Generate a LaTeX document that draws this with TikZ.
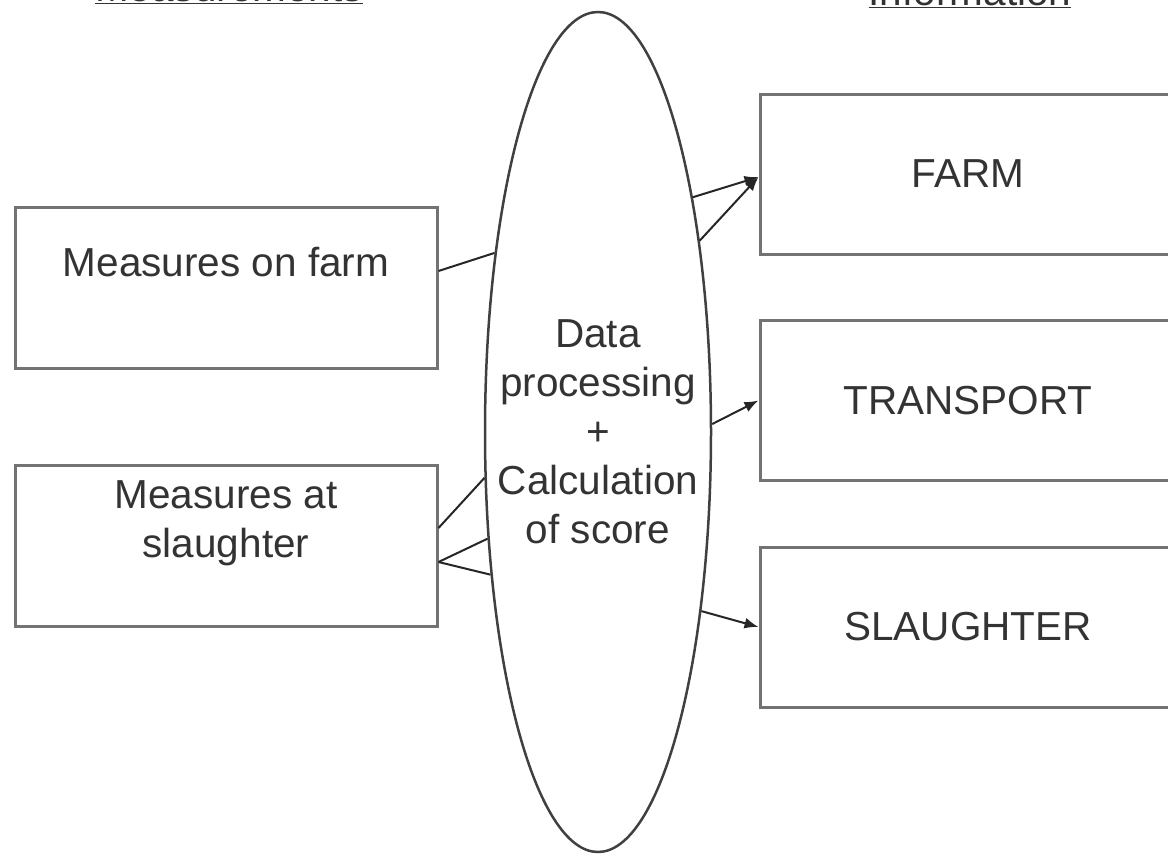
\documentclass[tikz,border=0pt]{standalone}
\usepackage{fontspec}
\setmainfont{Liberation Sans}
\usetikzlibrary{shapes.geometric,arrows.meta}
\newcommand{\bigtxt}{\fontsize{40.5}{49}\selectfont}

\begin{document}
\begin{tikzpicture}[x=1pt,y=-1pt,
	box/.style={draw=black!55,line width=3pt,minimum width=422pt,minimum height=161pt,inner sep=0pt,font=\bigtxt,text=black!80},
	txt/.style={font=\bigtxt,text=black!80,align=center},
	conn/.style={draw=black!85,line width=2pt},
	arr/.style={conn,-{Latex[length=14pt,width=11pt]}}]
	\useasboundingbox (0,0) rectangle (1168,854);
	% headings, cut by the page edge
	\node[txt,anchor=base] (meas) at (229,1.5) {\underline{Measurements}};
	\node[txt,anchor=base] (info) at (970,5) {\underline{Information}};
	% boxes
	\node[box,label={[txt,yshift=25]center:Measures on farm}] (mfarm) at (226,287.5) {};
	\node[box,label={[txt,yshift=23]center:Measures at\\slaughter}] (mslaught) at (226,546) {};
	\node[box,minimum width=416pt,minimum height=160pt] (farm) at (968,174) {FARM};
	\node[box,minimum width=416pt,minimum height=160pt] (transport) at (968,400.5) {TRANSPORT};
	\node[box,minimum width=416pt,minimum height=160pt] (slaughter) at (968,627) {SLAUGHTER};
	\node[ellipse,draw=black!75,line width=2.5pt,minimum width=226pt,minimum height=840pt,inner sep=0pt,
		label={[txt]center:Data\\processing\\+\\Calculation\\of score}] (proc) at (598,432) {};
	% connectors
	\draw[conn] ([yshift=16.5]mfarm.east) -- (proc.120);
	\draw[conn] ([yshift=18]mslaught.east) -- (proc.202);
	\foreach \a in {224,233}
		\draw[conn] ([yshift=-16]mslaught.east) -- (proc.\a);
	\foreach \a in {68,62}
		\draw[arr] (proc.\a) -- ([yshift=-3]farm.west);
	\draw[arr] (proc.4) -- (transport.west);
	\draw[arr] (proc.300) -- (slaughter.west);
\end{tikzpicture}
\end{document}
